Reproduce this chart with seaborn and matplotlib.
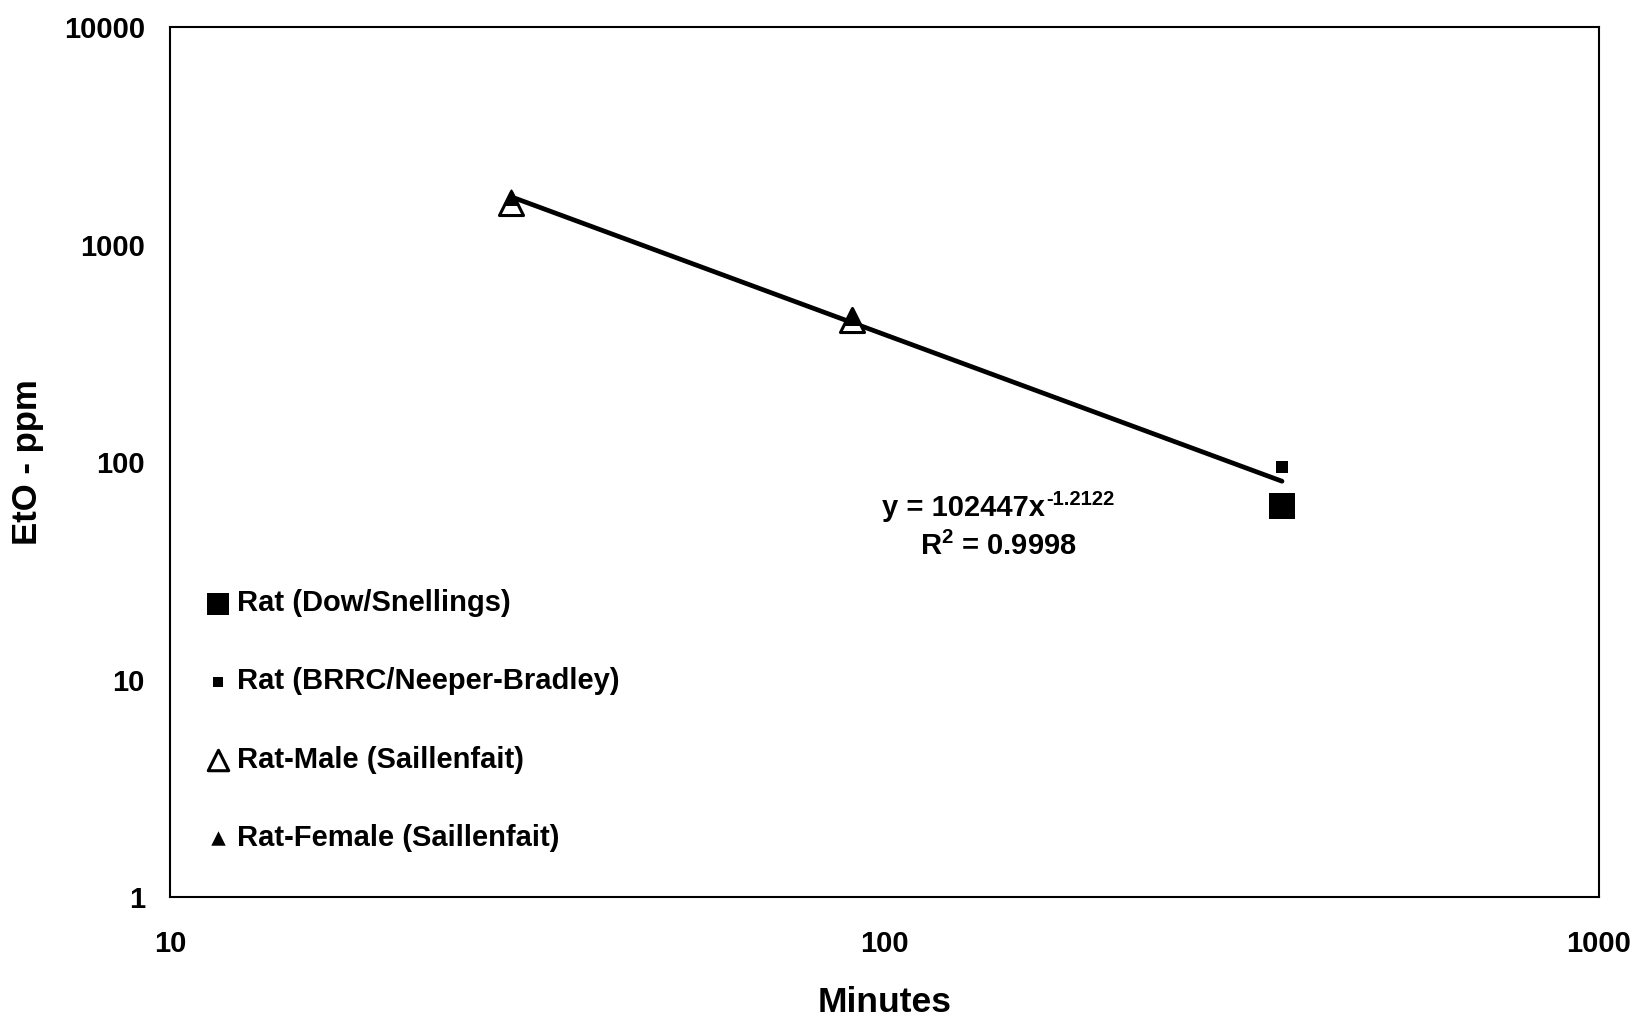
import numpy as np
import pandas as pd
import matplotlib
matplotlib.use("Agg")
import matplotlib.pyplot as plt
import seaborn as sns

# Exposure duration (minutes) and EtO concentration (ppm) for each study
dow_minutes = [360]
dow_ppm = [63]
brrc_minutes = [360]
brrc_ppm = [95]
male_minutes = [30, 90]
male_ppm = [1550, 450]
female_minutes = [30, 90]
female_ppm = [1660, 465]

# Power-law trendline: y = a * x^b
fit_a = 102447
fit_b = -1.2122
fit_r2 = 0.9998
fit_range = [30, 360]

x_ticks = [10, 100, 1000]
y_ticks = [1, 10, 100, 1000, 10000]

sns.set_style("white")
plt.rcParams["font.family"] = ["Liberation Sans", "DejaVu Sans"]
plt.rcParams["font.weight"] = "bold"
plt.rcParams["text.color"] = "black"
plt.rcParams["axes.labelcolor"] = "black"
plt.rcParams["xtick.color"] = "black"
plt.rcParams["ytick.color"] = "black"
plt.rcParams["mathtext.fontset"] = "custom"
plt.rcParams["mathtext.rm"] = "Liberation Sans:bold"
plt.rcParams["mathtext.bf"] = "Liberation Sans:bold"
plt.rcParams["mathtext.it"] = "Liberation Sans:bold"

fig = plt.figure(figsize=(16.36, 10.16), dpi=100)
ax = fig.add_axes([0.1039, 0.1171, 0.9774 - 0.1039, 0.9734 - 0.1171])

# Trendline
fit_x = np.geomspace(fit_range[0], fit_range[1], 100)
fit_df = pd.DataFrame({"Minutes": fit_x, "ppm": fit_a * fit_x ** fit_b})
sns.lineplot(data=fit_df, x="Minutes", y="ppm", ax=ax, color="black",
             linewidth=3.4, legend=False, zorder=2)

series = [
    ("Rat (Dow/Snellings)", dow_minutes, dow_ppm,
     dict(marker="s", s=370, color="black", edgecolor="black", linewidth=0)),
    ("Rat (BRRC/Neeper-Bradley)", brrc_minutes, brrc_ppm,
     dict(marker="s", s=70, color="black", edgecolor="black", linewidth=0)),
    ("Rat-Male (Saillenfait)", male_minutes, male_ppm,
     dict(marker="^", s=300, color="white", edgecolor="black", linewidth=2.2)),
    ("Rat-Female (Saillenfait)", female_minutes, female_ppm,
     dict(marker="^", s=150, color="black", edgecolor="black", linewidth=0)),
]
for i, (label, xs, ys, kw) in enumerate(series):
    df = pd.DataFrame({"Minutes": xs, "ppm": ys})
    sns.scatterplot(data=df, x="Minutes", y="ppm", ax=ax, label=label,
                    zorder=3 + i, **kw)

ax.set_xscale("log")
ax.set_yscale("log")
ax.set_xlim(10, 1000)
ax.set_ylim(1, 10000)
ax.set_xticks(x_ticks)
ax.set_xticklabels([str(t) for t in x_ticks])
ax.set_yticks(y_ticks)
ax.set_yticklabels([str(t) for t in y_ticks])
ax.minorticks_off()
ax.tick_params(axis="x", length=0, pad=24, labelsize=21)
ax.tick_params(axis="y", length=0, pad=18, labelsize=21)
for lab in ax.get_xticklabels() + ax.get_yticklabels():
    lab.set_fontweight("bold")

for sp in ax.spines.values():
    sp.set_visible(True)
    sp.set_color("black")
    sp.set_linewidth(1.5)

ax.set_xlabel("Minutes", fontsize=25.5, fontweight="bold", labelpad=20)
ax.set_ylabel("EtO - ppm", fontsize=25, fontweight="bold", labelpad=14)

# Trendline equation with a raised exponent
eq = ax.text(0.555, 0.4374, f"y = {fit_a}x", transform=ax.transAxes,
             ha="center", va="baseline", fontsize=21, fontweight="bold")
ax.annotate(f"{fit_b:.4f}", xy=(1, 1), xycoords=eq, xytext=(1, 3),
            textcoords="offset points", ha="left", va="top",
            fontsize=14.5, fontweight="bold")
ax.text(0.580, 0.393, r"R$^{2}$ = " + f"{fit_r2:.4f}", transform=ax.transAxes,
        ha="center", va="baseline", fontsize=21, fontweight="bold")

leg = ax.legend(loc="lower left", bbox_to_anchor=(0.0252, 0.052), frameon=False,
                fontsize=21, labelspacing=1.72, handlelength=0.85,
                handletextpad=0.2, borderpad=0, borderaxespad=0,
                markerscale=0.85)
for t in leg.get_texts():
    t.set_fontweight("bold")
    t.set_color("black")

fig.savefig("out.png", dpi=100, facecolor="white")
